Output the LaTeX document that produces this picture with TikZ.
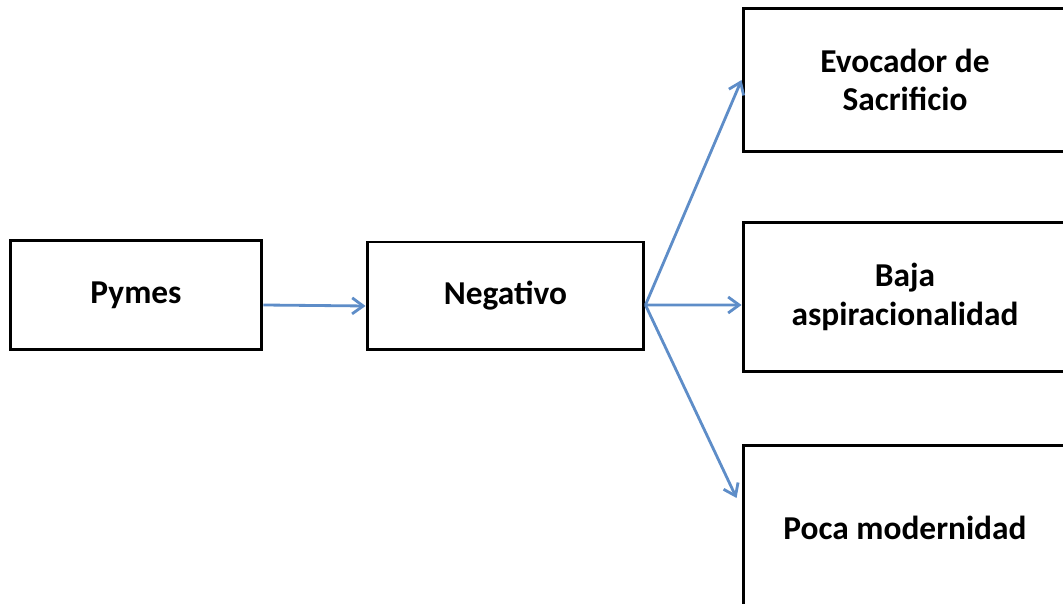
\documentclass[tikz,border=0pt]{standalone}
\definecolor{DiagBlack}{HTML}{000000}
\definecolor{DiagWhite}{HTML}{ffffff}
\definecolor{DiagSteel}{HTML}{5E8DC8}
\usepackage{fontspec}
\setmainfont{Carlito}
\usepackage{tikz}
\usetikzlibrary{arrows.meta, positioning, calc}
\tikzset{
    % Box style with sharp corners
    concept box/.style={
        rectangle,
        draw=DiagBlack,
        fill=DiagWhite,
        line width=1.7pt,
        align=center,
        font=\bfseries\fontsize{19}{22}\selectfont
    },
    link arrow/.style={
        -{Straight Barb[length=0.22cm, width=0.32cm]},
        line width=1.6pt,
        DiagSteel
    }
}
\begin{document}
\begin{tikzpicture}[x=0.02cm, y=-0.02cm]
        \clip (0,0) rectangle (1063,604);

        % Source and attitude
        \node[concept box, minimum width=5.04cm, minimum height=2.2cm] (pymes) at (136,295) {Pymes};
        \node[concept box, minimum width=5.54cm, minimum height=2.16cm] (negativo) at (505.5,296) {Negativo};

        % Outcomes on the right
        \node[concept box, minimum width=6.48cm, minimum height=2.86cm] (evocador) at (905,80) {Evocador de\\Sacrificio};
        \node[concept box, minimum width=6.48cm, minimum height=3cm] (baja) at (905,297) {Baja\\aspiracionalidad};
        \node[concept box, minimum width=6.48cm, minimum height=3.32cm] (poca) at (905,528) {Poca modernidad};

        \coordinate (fork) at ([yshift=-0.18cm]negativo.east);

        % Arrows
        \draw[link arrow] ([yshift=-0.2cm]pymes.east) -- ([yshift=-0.2cm]negativo.west);
        \draw[link arrow] (fork) -- (evocador.west);
        \draw[link arrow] (fork) -- ([yshift=-0.16cm]baja.west);
        \draw[link arrow] (fork) -- ([shift={(-0.1cm,0.6cm)}]poca.west);
    \end{tikzpicture}
\end{document}
